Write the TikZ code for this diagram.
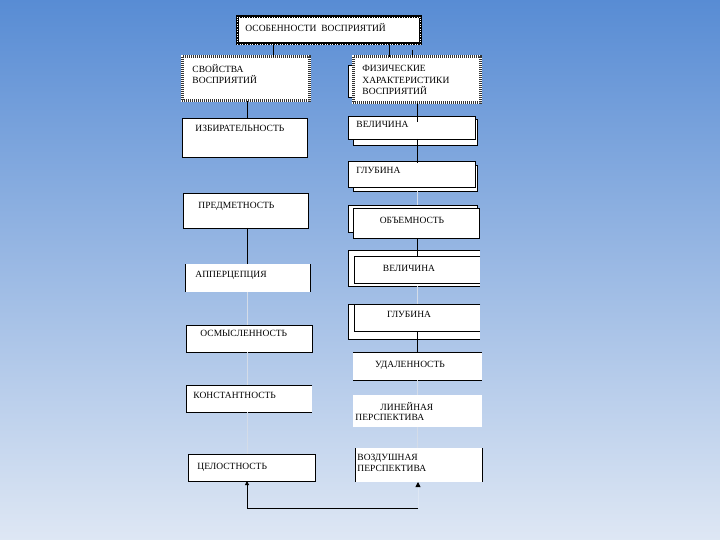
\documentclass[tikz,border=0pt]{standalone}
\usepackage{fontspec}
\setmainfont{Liberation Serif}
\usetikzlibrary{arrows.meta}
\definecolor{bgtop}{RGB}{88,140,212}
\definecolor{bgbot}{RGB}{222,231,244}
\definecolor{faint}{RGB}{212,220,232}

\begin{document}
\begin{tikzpicture}[x=1pt,y=-1pt,line width=0.9pt,
    box/.style={fill=white,anchor=north west,inner sep=0pt,outer sep=0pt},
    fr/.style={box,draw},
    head/.style={box,draw=black,line width=3pt,postaction={draw=white,solid,line width=0.9pt,dash pattern=on 0.9pt off 1.6pt}},
    dots/.style={box,preaction={draw=white,solid,line width=3pt},draw=black!80,line width=3pt,dash pattern=on 1pt off 1pt},
    lbl/.style={anchor=base west,inner sep=0pt,font=\fontsize{9.5}{11.5}\selectfont,align=left},
    clbl/.style={lbl,anchor=base,align=center},
    pale/.style={draw=faint}]
  \shade[top color=bgtop,bottom color=bgbot] (0,0) rectangle (720,540);
  \useasboundingbox (0,0) rectangle (720,540);

  % top and the two groups
  \node[head,minimum width=183pt,minimum height=27pt] (osob) at (237,17) {};
  \node[lbl] (osobt) at (245,32) {ОСОБЕННОСТИ\ \ ВОСПРИЯТИЙ};
  \node[dots,minimum width=127pt,minimum height=44pt] (svoi) at (182,57) {};
  \node[lbl] (svoit) at (192,84) {СВОЙСТВА\\ВОСПРИЯТИЙ};
  \node[fr,minimum width=40pt,minimum height=32pt] (fizsh) at (348,65) {};
  \node[dots,minimum width=127pt,minimum height=46pt] (fiz) at (353,57) {};
  \node[lbl] (fizt) at (362,95) {ФИЗИЧЕСКИЕ\\ХАРАКТЕРИСТИКИ\\ВОСПРИЯТИЙ};

  % left column
  \node[fr,minimum width=125pt,minimum height=39pt] (izb) at (182,118) {};
  \node[lbl] (izbt) at (195,131.5) {ИЗБИРАТЕЛЬНОСТЬ};
  \node[fr,minimum width=125pt,minimum height=35pt] (pred) at (183,193) {};
  \node[lbl] (predt) at (198,208.5) {ПРЕДМЕТНОСТЬ};
  \node[box,minimum width=125pt,minimum height=28pt] (app) at (185,264) {};
  \draw (app.north west) -- (app.south west) (app.north east) -- (app.south east);
  \node[lbl] (appt) at (195,277.5) {АППЕРЦЕПЦИЯ};
  \node[fr,minimum width=126pt,minimum height=27pt] (osm) at (186,325) {};
  \node[lbl] (osmt) at (200,336.5) {ОСМЫСЛЕННОСТЬ};
  \node[box,minimum width=126pt,minimum height=27pt] (konst) at (186,385) {};
  \draw (konst.north east) -- (konst.north west) -- (konst.south west) -- (konst.south east);
  \node[lbl] (konstt) at (193,398.5) {КОНСТАНТНОСТЬ};
  \node[fr,minimum width=127pt,minimum height=27pt] (cel) at (188,454) {};
  \node[lbl] (celt) at (197,469) {ЦЕЛОСТНОСТЬ};

  % right column
  \node[fr,minimum width=124pt,minimum height=26pt] (velsh) at (353,119) {};
  \node[fr,minimum width=127pt,minimum height=23pt] (vel) at (348,116) {};
  \node[lbl] (velt) at (356,128) {ВЕЛИЧИНА};
  \node[fr,minimum width=124pt,minimum height=26pt] (glubsh) at (353,165) {};
  \node[fr,minimum width=127pt,minimum height=26pt] (glub) at (348,161) {};
  \node[lbl] (glubt) at (356,174) {ГЛУБИНА};
  \node[fr,minimum width=129pt,minimum height=27pt] (objsh) at (348,205) {};
  \node[fr,minimum width=126pt,minimum height=30pt] (obj) at (353,208) {};
  \node[clbl] (objt) at (412,224) {ОБЪЕМНОСТЬ};
  \node[box,minimum width=132pt,minimum height=36pt] (vel2o) at (348,250) {};
  \draw (vel2o.north east) -- (vel2o.north west) -- (vel2o.south west) -- (vel2o.south east);
  \node[box,minimum width=126pt,minimum height=27pt] (vel2i) at (354,256) {};
  \draw (vel2i.north east) -- (vel2i.north west) -- (vel2i.south west) -- (vel2i.south east);
  \node[clbl] (vel2t) at (409,271) {ВЕЛИЧИНА};
  \node[box,minimum width=132pt,minimum height=35pt] (glub2o) at (348,304) {};
  \draw (glub2o.north east) -- (glub2o.north west) -- (glub2o.south west) -- (glub2o.south east);
  \node[box,minimum width=126pt,minimum height=27pt] (glub2i) at (354,304) {};
  \draw (glub2i.north east) -- (glub2i.north west) -- (glub2i.south west) -- (glub2i.south east);
  \node[clbl] (glub2t) at (409,317) {ГЛУБИНА};
  \node[box,minimum width=129pt,minimum height=28pt] (udal) at (353,352) {};
  \draw (udal.north west) -- (udal.north east) (udal.south west) -- (udal.south east);
  \node[clbl] (udalt) at (410,367) {УДАЛЕННОСТЬ};
  \node[box,minimum width=129pt,minimum height=32pt] (lin) at (353,395) {};
  \node[lbl,font=\fontsize{9.5}{10.5}\selectfont] (lint) at (355,420.5) {\hspace*{25pt}ЛИНЕЙНАЯ\\ПЕРСПЕКТИВА};
  \node[box,minimum width=127pt,minimum height=34pt] (vozd) at (355,448) {};
  \draw (vozd.north west) -- (vozd.south west) (vozd.north east) -- (vozd.south east);
  \node[lbl] (vozdt) at (357,471.5) {ВОЗДУШНАЯ\\ПЕРСПЕКТИВА};

  % connectors
  \coordinate (ol) at (273,0);
  \coordinate (or) at (389,0);
  \coordinate (lt) at (247,0);
  \coordinate (rt) at (417,0);
  \coordinate (fs) at (412,50);
  \coordinate (turn) at (418,508);
  \draw (osob.south -| ol) -- (svoi.north -| ol);
  \draw (osob.south -| or) -- (fiz.north -| or);
  \draw (fs) -- (fs |- fiz.north);
  \draw (svoi.south -| lt) -- (izb.north -| lt);
  \draw (pred.south -| lt) -- (app.north -| lt);
  \draw[pale] (app.south -| lt) -- (osm.north -| lt);
  \draw[pale] (osm.south -| lt) -- (konst.north -| lt);
  \draw[pale] (konst.south -| lt) -- (cel.north -| lt);
  \draw[shorten >=-6pt] (fiz.south -| rt) -- (vel.north -| rt);
  \draw[shorten >=-2pt] (vel.south -| rt) -- (glub.north -| rt);
  \draw[pale] (glubsh.south -| rt) -- (objsh.north -| rt);
  \draw (obj.south -| rt) -- (vel2i.north -| rt);
  \draw[pale] (vel2o.south -| rt) -- (glub2o.north -| rt);
  \draw (glub2i.south -| rt) -- (udal.north -| rt);
  \draw[pale] (udal.south -| rt) -- (lin.north -| rt);
  \draw[pale] (lin.south -| rt) -- (vozd.north -| rt);
  \draw[-{Triangle[length=4pt,width=4pt]}] (turn) -| (cel.south -| lt);
  \draw[draw=bgbot,{Triangle[black,length=5pt,width=5pt]}-] (vozd.south -| turn) -- (turn);
\end{tikzpicture}
\end{document}
